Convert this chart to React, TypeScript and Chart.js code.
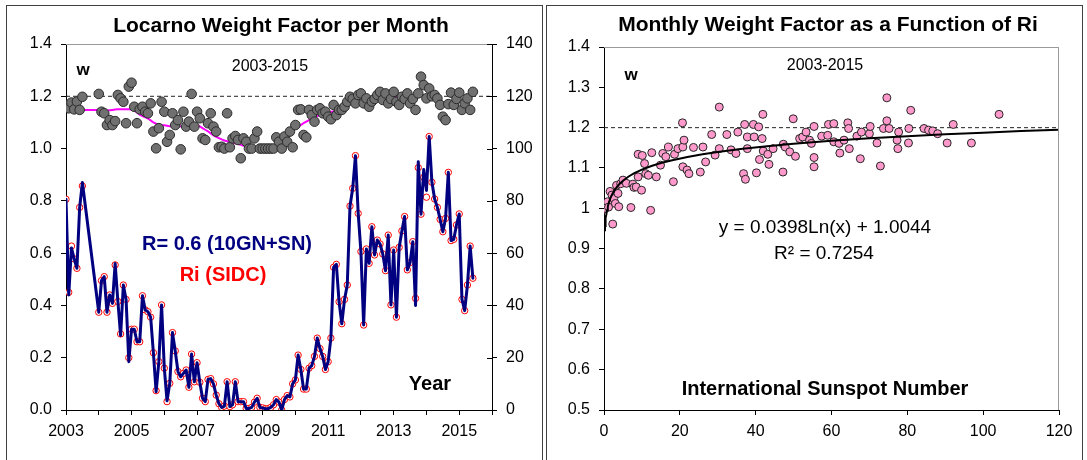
import React, { useEffect, useRef } from 'react';
import { Chart, registerables } from 'chart.js';

Chart.register(...registerables);

const FONT = "'Liberation Sans', Arial, Helvetica, sans-serif";

// ---------------- Left panel data (monthly, Jan 2003 .. Jun 2015) ----------------
const FIRST_YEAR = 2003;
const X_MIN = 2003;
const X_MAX = 2016;

// International sunspot number Ri (SIDC), right axis
const riSIDC: (number | null)[] = [
  80.6, 45.0, 62.7, 57.8, 54.2, 77.5, 85.7, null, null, null, null, null,
  37.4, 49.5, 51.0, 37.4, 44.0, 40.8, 55.5, 41.5, 29.1, 47.8, 42.3, 20.0,
  30.9, 30.9, 26.1, 26.1, 43.7, 38.3, 37.6, 35.5, 21.9, 7.4, 18.5, 40.2,
  16.0, 3.2, 10.2, 29.6, 22.6, 14.7, 12.7, 14.0, 15.3, 8.7, 21.4, 10.8,
  18.1, 10.6, 4.5, 3.2, 11.7, 12.0, 10.0, 5.7, 2.4, 1.0, 1.5, 10.8,
  1.3, 2.0, 10.8, 3.2, 3.2, 3.2, 0.6, 0.6, 1.0, 3.0, 4.5, 1.0,
  0.8, 0.5, 0.5, 1.0, 2.0, 4.0, 3.0, 0.0, 4.0, 5.5, 5.0, 10.0,
  11.5, 21.0, 15.5, 8.0, 8.0, 16.0, 17.0, 20.5, 27.5, 23.5, 20.5, 15.5,
  18.5, 27.5, 54.6, 55.7, 41.4, 33.0, 42.3, 47.8, 78.0, 84.8, 97.3, 75.2,
  60.6, 32.5, 61.6, 56.1, 70.1, 59.3, 65.0, 63.5, 59.7, 53.3, 66.9, 40.2,
  61.2, 35.5, 62.2, 68.5, 74.0, 53.6, 56.4, 64.4, 42.7, 92.7, 74.9, 89.0,
  81.4, 104.6, 87.1, 80.7, 77.5, 72.9, 68.2, 73.3, 90.9, 64.8, 65.3, 70.8,
  75.0, 42.3, 38.0, 47.8, 62.7, 50.4,
];

// Locarno R = 0.6 (10GN+SN), right axis
const rLocarno: (number | null)[] = [
  80.6, 44.0, 62.0, 57.8, 54.2, 77.5, 87.0, null, null, null, null, null,
  37.4, 49.5, 51.0, 37.4, 44.0, 40.8, 56.0, 41.5, 28.5, 47.8, 42.3, 18.5,
  30.9, 30.9, 26.1, 26.1, 43.7, 38.3, 37.6, 35.5, 21.9, 7.0, 18.5, 40.2,
  16.0, 3.5, 10.2, 29.6, 22.6, 14.7, 12.7, 14.0, 15.3, 8.7, 21.4, 10.8,
  18.1, 10.6, 4.5, 3.2, 11.7, 12.0, 10.0, 5.7, 2.4, 1.0, 1.5, 10.8,
  1.3, 2.0, 10.8, 3.2, 3.2, 3.2, 0.6, 0.6, 1.0, 3.0, 4.5, 1.0,
  0.8, 0.5, 0.5, 1.0, 2.0, 4.0, 3.0, 0.0, 4.0, 5.5, 5.0, 10.0,
  11.5, 21.0, 15.5, 8.0, 8.0, 16.0, 17.0, 20.5, 27.5, 23.5, 20.5, 15.5,
  18.5, 27.5, 54.6, 55.7, 41.4, 33.0, 42.3, 47.8, 78.0, 84.8, 97.3, 75.2,
  60.6, 32.5, 61.6, 56.1, 70.1, 59.3, 65.0, 63.5, 59.7, 53.3, 66.9, 40.2,
  61.2, 35.5, 62.2, 68.5, 74.0, 53.6, 56.4, 64.4, 40.0, 95.0, 74.9, 92.0,
  84.0, 104.6, 87.1, 80.7, 77.5, 72.9, 68.2, 73.3, 90.9, 64.8, 65.3, 70.8,
  75.0, 42.3, 38.0, 47.8, 62.7, 50.4,
];

// Monthly weight factor w, left axis
const wMonthly: (number | null)[] = [
  1.167, 1.154, 1.176, 1.150, 1.180, 1.148, 1.198, null, null, null, null, null,
  1.209, 1.141, 1.135, 1.090, 1.109, 1.090, 1.105, 1.205, 1.192, 1.179, 1.097, 1.237,
  1.252, 1.160, 1.097, 1.150, 1.160, 1.141, 1.135, 1.173, 1.065, 1.001, 1.078, 1.179,
  1.141, 1.026, 1.052, 1.135, 1.090, 1.109, 0.997, 1.141, 1.084, 1.103, 1.209, 1.084,
  1.141, 1.116, 1.039, 1.033, 1.097, 1.135, 1.084, 1.065, 1.005, 1.007, 1.000, 1.135,
  1.005, 1.039, 1.048, 1.033, 0.963, 1.039, 1.026, 1.000, 1.000, 1.039, 1.065, 1.000,
  1.000, 1.000, 1.000, 1.000, 1.000, 1.043, 1.026, 1.000, 1.046, 1.026, 1.065, 1.005,
  1.090, 1.148, 1.150, 1.052, 1.043, 1.148, 1.128, 1.103, 1.148, 1.154, 1.135, 1.141,
  1.122, 1.112, 1.167, 1.128, 1.148, 1.148, 1.160, 1.179, 1.198, 1.190, 1.173, 1.205,
  1.211, 1.173, 1.192, 1.160, 1.180, 1.190, 1.205, 1.217, 1.186, 1.211, 1.173, 1.190,
  1.217, 1.179, 1.167, 1.198, 1.190, 1.211, 1.173, 1.190, 1.148, 1.211, 1.275, 1.243,
  1.192, 1.230, 1.200, 1.205, 1.192, 1.167, 1.122, 1.109, 1.170, 1.214, 1.167, 1.190,
  1.214, 1.148, 1.173, 1.192, 1.148, 1.217,
];

// Smoothed w (magenta), monthly from Jul 2003 to Dec 2014
const SMOOTH_FIRST_MONTH = 6;
const wSmoothed: number[] = [
  1.148, 1.148, 1.148, 1.148, 1.148, 1.148,
  1.148, 1.147, 1.146, 1.146, 1.147, 1.148, 1.149, 1.150, 1.150, 1.150, 1.150, 1.150,
  1.149, 1.145, 1.138, 1.130, 1.124, 1.120, 1.115, 1.108, 1.100, 1.095, 1.092, 1.090,
  1.089, 1.087, 1.085, 1.084, 1.084, 1.084, 1.085, 1.087, 1.089, 1.090, 1.090, 1.090,
  1.089, 1.085, 1.078, 1.072, 1.066, 1.058, 1.050, 1.045, 1.040, 1.035, 1.031, 1.028,
  1.025, 1.022, 1.020, 1.017, 1.014, 1.011, 1.009, 1.007, 1.006, 1.005, 1.005, 1.005,
  1.005, 1.005, 1.006, 1.008, 1.011, 1.016, 1.022, 1.030, 1.040, 1.050, 1.060, 1.068,
  1.076, 1.083, 1.090, 1.097, 1.103, 1.109, 1.115, 1.120, 1.124, 1.128, 1.131, 1.134,
  1.137, 1.140, 1.143, 1.147, 1.152, 1.157, 1.162, 1.166, 1.170, 1.173, 1.176, 1.178,
  1.180, 1.182, 1.184, 1.186, 1.188, 1.190, 1.191, 1.192, 1.193, 1.194, 1.195, 1.196,
  1.196, 1.197, 1.198, 1.199, 1.200, 1.201, 1.202, 1.203, 1.204, 1.205, 1.205, 1.204,
  1.200, 1.195, 1.190, 1.186, 1.182, 1.178, 1.175, 1.172, 1.170, 1.168, 1.167, 1.167,
];

const W_REFERENCE = 1.2;

// ---------------- Right panel data ----------------
const scatterRi: number[] = [
  0.0, 0.5, 1.0, 0.3, 1.2, 1.6, 2.1, 2.3, 2.6, 3.0, 3.3, 3.7, 3.9, 4.4, 5.0, 5.9,
  7.1, 7.6, 7.9, 8.5, 9.0, 9.0, 9.9, 10.1, 10.7, 11.0, 11.7, 12.3, 12.6, 13.8, 14.9, 15.5,
  16.3, 17.0, 18.3, 18.6, 19.5, 20.7, 20.8, 20.8, 21.1, 21.9, 22.4, 23.6, 25.4, 26.1, 26.8, 28.4,
  29.3, 30.4, 30.4, 32.4, 33.5, 34.8, 35.3, 36.8, 37.1, 37.3, 37.8, 37.8, 39.4, 39.6, 40.2, 40.8,
  41.0, 41.7, 41.9, 42.0, 43.2, 43.5, 44.6, 47.2, 47.3, 47.8, 49.0, 49.9, 50.5, 51.6, 52.4, 53.3,
  54.2, 54.7, 55.4, 55.4, 55.4, 57.4, 59.0, 59.2, 60.6, 60.6, 62.0, 62.2, 63.3, 64.3, 64.5, 64.7,
  66.7, 67.6, 67.9, 70.0, 70.2, 72.0, 72.9, 73.7, 74.6, 74.6, 75.2, 77.3, 77.5, 77.7, 80.3, 80.4,
  80.9, 84.4, 85.6, 86.7, 88.0, 90.5, 92.1, 96.9, 104.2,
];
const scatterW: number[] = [
  0.998, 1.012, 1.016, 1.000, 1.003, 1.042, 1.033, 0.961, 1.024, 1.012, 1.057, 1.037, 1.004, 1.061, 1.070, 1.062,
  1.002, 1.060, 1.052, 1.053, 1.134, 1.078, 1.045, 1.131, 1.111, 1.086, 1.082, 0.995, 1.138, 1.078, 1.107, 1.136,
  1.128, 1.152, 1.066, 1.134, 1.148, 1.212, 1.152, 1.103, 1.169, 1.095, 1.086, 1.151, 1.090, 1.152, 1.115, 1.183,
  1.132, 1.251, 1.148, 1.183, 1.145, 1.136, 1.189, 1.086, 1.208, 1.072, 1.177, 1.148, 1.208, 1.177, 1.088, 1.202,
  1.121, 1.173, 1.233, 1.142, 1.134, 1.109, 1.148, 1.090, 1.159, 1.152, 1.140, 1.222, 1.129, 1.173, 1.177, 1.189,
  1.169, 1.161, 1.203, 1.126, 1.103, 1.179, 1.181, 1.208, 1.210, 1.165, 1.161, 1.137, 1.169, 1.212, 1.198, 1.148,
  1.179, 1.123, 1.189, 1.185, 1.203, 1.162, 1.105, 1.198, 1.217, 1.274, 1.198, 1.169, 1.148, 1.189, 1.162, 1.198,
  1.243, 1.198, 1.194, 1.192, 1.185, 1.162, 1.208, 1.162, 1.233,
];

// Logarithmic trend line printed on the chart: y = 0.0398 Ln(x) + 1.0044
const FIT_SLOPE = 0.0398;
const FIT_INTERCEPT = 1.0044;
const fitSampleRi: number[] = [
  0.23, 0.26, 0.3, 0.35, 0.4, 0.5, 0.6, 0.8, 1, 1.3, 1.7, 2.2, 3, 4, 5, 6.5, 8, 10, 12.5, 15,
  18, 22, 26, 30, 36, 43, 50, 60, 70, 80, 90, 100, 110, 120,
];

// ---------------- helpers ----------------
const monthX = (i: number) => FIRST_YEAR + i / 12;
const monthlyPoints = (arr: (number | null)[]) =>
  arr
    .map((v, i) => (v === null ? null : { x: monthX(i), y: v }))
    .filter((p) => p !== null) as { x: number; y: number }[];

type Label = { text: string; x: number; y: number; font: string; color?: string };

const labelsPlugin = (id: string, labels: Label[]) => ({
  id,
  afterDraw(chart: any) {
    const ctx = chart.ctx as CanvasRenderingContext2D;
    ctx.save();
    ctx.textAlign = 'center';
    ctx.textBaseline = 'middle';
    for (const l of labels) {
      ctx.font = l.font;
      ctx.fillStyle = l.color || '#000';
      ctx.fillText(l.text, l.x, l.y);
    }
    ctx.restore();
  },
});

const framePlugin = (id: string, grayRight: boolean, innerTickAxis?: string) => ({
  id,
  afterDraw(chart: any) {
    const ctx = chart.ctx as CanvasRenderingContext2D;
    const a = chart.chartArea;
    ctx.save();
    ctx.strokeStyle = '#9a9a9a';
    ctx.lineWidth = 1;
    ctx.beginPath();
    ctx.moveTo(a.left, Math.round(a.top) + 0.5);
    ctx.lineTo(a.right, Math.round(a.top) + 0.5);
    if (grayRight) {
      ctx.moveTo(Math.round(a.right) - 0.5, a.top);
      ctx.lineTo(Math.round(a.right) - 0.5, a.bottom);
    }
    ctx.stroke();
    if (innerTickAxis) {
      const s = chart.scales[innerTickAxis];
      ctx.strokeStyle = '#000';
      ctx.beginPath();
      s.ticks.forEach((t: any) => {
        const y = Math.round(s.getPixelForValue(t.value)) + 0.5;
        ctx.moveTo(s.left - 5, y);
        ctx.lineTo(s.left, y);
      });
      ctx.stroke();
    }
    ctx.restore();
  },
});

const tickFont = { family: FONT, size: 16 };
const axisGrid = { drawOnChartArea: false, drawTicks: true, tickLength: 5, color: '#000', lineWidth: 1 };
const axisBorder = { display: true, color: '#000', width: 1 };

function leftConfig(): any {
  return {
    type: 'scatter',
    data: {
      datasets: [
        {
          label: 'w',
          data: monthlyPoints(wMonthly),
          yAxisID: 'y',
          showLine: false,
          pointRadius: 4.8,
          pointBackgroundColor: '#707070',
          pointBorderColor: '#2b2b2b',
          pointBorderWidth: 1,
          order: 0,
        },
        {
          label: 'w smoothed',
          data: wSmoothed.map((v, i) => ({ x: monthX(i + SMOOTH_FIRST_MONTH), y: v })),
          yAxisID: 'y',
          showLine: true,
          borderColor: '#ff00ff',
          borderWidth: 2,
          pointRadius: 0,
          order: 1,
        },
        {
          label: 'R= 0.6 (10GN+SN)',
          data: monthlyPoints(rLocarno),
          yAxisID: 'y2',
          showLine: true,
          borderColor: '#000080',
          borderWidth: 3,
          borderJoinStyle: 'round',
          borderCapStyle: 'round',
          pointRadius: 0,
          order: 2,
        },
        {
          label: 'Ri (SIDC)',
          data: monthlyPoints(riSIDC),
          yAxisID: 'y2',
          showLine: false,
          pointRadius: 3.2,
          pointBackgroundColor: '#ffffff',
          pointBorderColor: '#ff0000',
          pointBorderWidth: 1,
          order: 3,
        },
        {
          label: 'ref',
          data: [
            { x: X_MIN, y: W_REFERENCE },
            { x: X_MAX, y: W_REFERENCE },
          ],
          yAxisID: 'y',
          showLine: true,
          borderColor: '#222',
          borderWidth: 1,
          borderDash: [4, 3],
          pointRadius: 0,
          order: 4,
        },
      ],
    },
    options: {
      responsive: false,
      animation: false,
      layout: { padding: { top: 44, left: 0, right: 0, bottom: 0 } },
      plugins: { legend: { display: false }, tooltip: { enabled: false }, title: { display: false } },
      scales: {
        x: {
          type: 'linear',
          min: X_MIN,
          max: X_MAX,
          afterFit: (s: any) => {
            s.height = 50;
          },
          ticks: {
            stepSize: 1,
            autoSkip: false,
            maxRotation: 0,
            padding: 7,
            color: '#000',
            font: tickFont,
            callback: (v: number) => ((Math.round(v) - FIRST_YEAR) % 2 === 0 ? String(Math.round(v)) : ''),
          },
          grid: axisGrid,
          border: axisBorder,
        },
        y: {
          position: 'left',
          min: 0,
          max: 1.4,
          afterFit: (s: any) => {
            s.width = 66;
          },
          ticks: {
            stepSize: 0.2,
            padding: 9,
            color: '#000',
            font: tickFont,
            callback: (v: number) => v.toFixed(1),
          },
          grid: axisGrid,
          border: axisBorder,
        },
        y2: {
          position: 'right',
          min: 0,
          max: 140,
          afterFit: (s: any) => {
            s.width = 52;
          },
          ticks: { stepSize: 20, padding: 9, color: '#000', font: tickFont },
          grid: axisGrid,
          border: axisBorder,
        },
      },
    },
    plugins: [
      framePlugin('leftFrame', false, 'y2'),
      labelsPlugin('leftLabels', [
        { text: 'Locarno Weight Factor per Month', x: 281, y: 26, font: `bold 21px ${FONT}` },
        { text: 'w', x: 83, y: 70, font: `bold 17px ${FONT}` },
        { text: '2003-2015', x: 270, y: 67, font: `16px ${FONT}` },
        { text: 'R= 0.6 (10GN+SN)', x: 227, y: 244, font: `bold 20px ${FONT}`, color: '#000080' },
        { text: 'Ri (SIDC)', x: 223, y: 275, font: `bold 20px ${FONT}`, color: '#ff0000' },
        { text: 'Year', x: 430, y: 384, font: `bold 20px ${FONT}` },
      ]),
    ],
  };
}

function rightConfig(): any {
  return {
    type: 'scatter',
    data: {
      datasets: [
        {
          label: 'trend',
          data: fitSampleRi.map((x) => ({ x, y: FIT_INTERCEPT + FIT_SLOPE * Math.log(x) })),
          showLine: true,
          borderColor: '#000',
          borderWidth: 2,
          pointRadius: 0,
          order: 0,
        },
        {
          label: 'w vs Ri',
          data: scatterRi.map((x, i) => ({ x, y: scatterW[i] })),
          showLine: false,
          pointRadius: 4,
          pointBackgroundColor: '#ff99cc',
          pointBorderColor: '#262626',
          pointBorderWidth: 1,
          order: 1,
        },
        {
          label: 'ref',
          data: [
            { x: 0, y: W_REFERENCE },
            { x: 120, y: W_REFERENCE },
          ],
          showLine: true,
          borderColor: '#222',
          borderWidth: 1,
          borderDash: [4, 3],
          pointRadius: 0,
          order: 2,
        },
      ],
    },
    options: {
      responsive: false,
      animation: false,
      layout: { padding: { top: 47, left: 0, right: 28, bottom: 0 } },
      plugins: { legend: { display: false }, tooltip: { enabled: false }, title: { display: false } },
      scales: {
        x: {
          type: 'linear',
          min: 0,
          max: 120,
          afterFit: (s: any) => {
            s.height = 50;
          },
          ticks: { stepSize: 20, autoSkip: false, maxRotation: 0, padding: 7, color: '#000', font: tickFont },
          grid: axisGrid,
          border: axisBorder,
        },
        y: {
          position: 'left',
          min: 0.5,
          max: 1.4,
          afterFit: (s: any) => {
            s.width = 60;
          },
          ticks: {
            stepSize: 0.1,
            padding: 9,
            color: '#000',
            font: tickFont,
            callback: (v: number) => String(Math.round(v * 10) / 10),
          },
          grid: axisGrid,
          border: axisBorder,
        },
      },
    },
    plugins: [
      framePlugin('rightFrame', true),
      labelsPlugin('rightLabels', [
        { text: 'Monthly Weight Factor as a Function of Ri', x: 284, y: 25, font: `bold 21px ${FONT}` },
        { text: 'w', x: 87, y: 75, font: `bold 17px ${FONT}` },
        { text: '2003-2015', x: 281, y: 66, font: `16px ${FONT}` },
        { text: 'y = 0.0398Ln(x) + 1.0044', x: 281, y: 228, font: `19px ${FONT}` },
        { text: 'R\u00B2 = 0.7254', x: 280, y: 254, font: `19px ${FONT}` },
        { text: 'International Sunspot Number', x: 281, y: 389, font: `bold 20px ${FONT}` },
      ]),
    ],
  };
}

function ChartCanvas(props: { left: number; width: number; height: number; makeConfig: () => any }) {
  const ref = useRef<HTMLCanvasElement | null>(null);
  useEffect(() => {
    if (!ref.current) return;
    const chart = new Chart(ref.current, props.makeConfig());
    return () => chart.destroy();
  }, []);
  return (
    <canvas
      ref={ref}
      width={props.width}
      height={props.height}
      style={{ position: 'absolute', left: props.left, top: 0, width: props.width, height: props.height }}
    />
  );
}

export default function App() {
  return (
    <div
      style={{
        position: 'absolute',
        left: 0,
        top: 0,
        width: 1087,
        height: 460,
        overflow: 'hidden',
        background: '#fff',
      }}
    >
      <ChartCanvas left={0} width={544} height={460} makeConfig={leftConfig} />
      <ChartCanvas left={544} width={543} height={460} makeConfig={rightConfig} />
      <div
        style={{
          position: 'absolute',
          left: 6,
          top: 5,
          width: 537,
          height: 480,
          border: '1px solid #404040',
          boxSizing: 'border-box',
          pointerEvents: 'none',
        }}
      />
      <div
        style={{
          position: 'absolute',
          left: 546,
          top: 5,
          width: 537,
          height: 480,
          border: '1px solid #404040',
          boxSizing: 'border-box',
          pointerEvents: 'none',
        }}
      />
    </div>
  );
}
